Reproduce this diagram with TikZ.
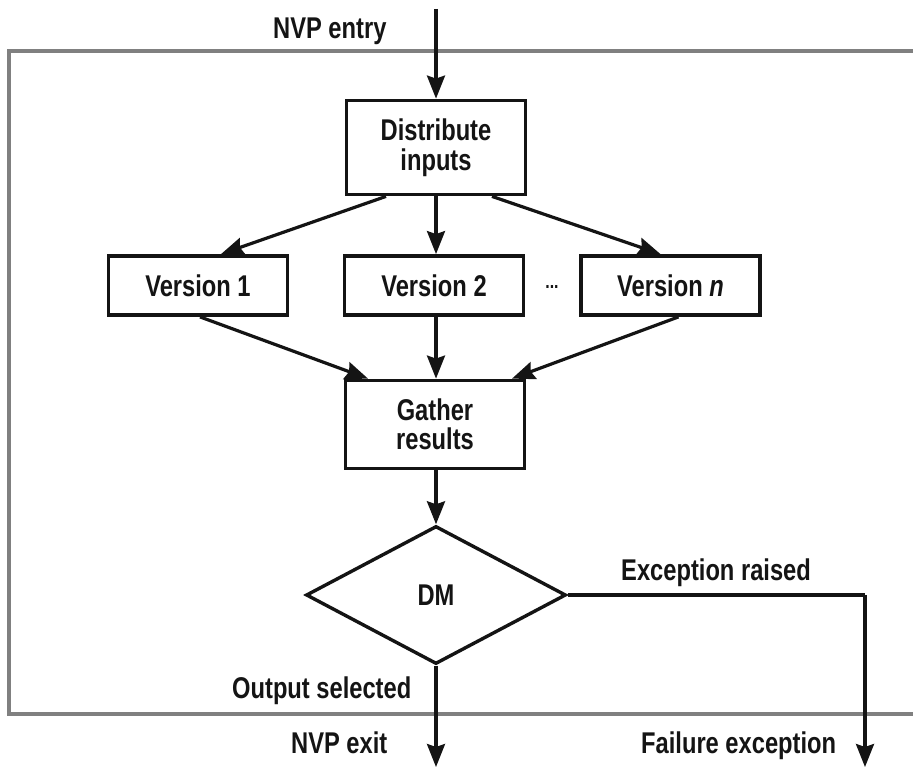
\documentclass[tikz,border=0pt]{standalone}
\usepackage{fontspec}
\setmainfont{Liberation Sans}[FakeStretch=0.79,UprightFont=*-Bold,ItalicFont=*-Bold Italic]
\usetikzlibrary{arrows.meta,shapes.geometric,calc}

\begin{document}
\begin{tikzpicture}[x=1pt,y=-1pt,
  every node/.style={font=\fontsize{30}{29.5}\selectfont, text=black!92},
  procbox/.style={draw=black!92, line width=3.8pt, minimum width=179pt,
    inner sep=0pt, align=center, fill=white},
  decision/.style={draw=black!92, diamond, line width=3.4pt, inner sep=0pt,
    minimum width=260pt, minimum height=138pt, aspect=1.88, fill=white},
  link/.style={draw=black!92, line width=3.2pt,
    -{Stealth[length=23pt,width=18pt,inset=3pt]}},
  plainlink/.style={draw=black!92, line width=3.2pt},
  tag/.style={inner sep=0pt, anchor=base west},
  frameline/.style={draw=black!50, line width=4.5pt}]

% page extent
\useasboundingbox (0,0) rectangle (913,767);

% enclosing N-version programming block (open on the right)
\draw[frameline] (916,51) -- (9,51) -- (9,714) -- (916,714);

% process boxes
\node[procbox, minimum height=94pt] (dist) at (436,147.5) {Distribute\\inputs};
\node[procbox, minimum height=59pt] (v1) at (198,285.5) {Version 1};
\node[procbox, minimum height=59pt] (v2) at (434,285.5) {Version 2};
\node[procbox, minimum height=59pt] (vn) at (670.5,285.5) {Version \textit{n}};
\node[inner sep=0pt, font=\fontsize{20}{20}\selectfont] (dots) at (552,287) {...};
\node[procbox, minimum height=88pt] (gather) at (435,424.5) {Gather\\results};
\node[decision] (dm) at (436,595) {DM};

% free ends of the connectors
\coordinate (entry) at (436,9);
\coordinate (exit) at (436,767);
\coordinate (corner) at (865,595);
\coordinate (fail) at (865,767);

% connectors
\draw[link] (entry) -- (dist.north);
\draw[link] ($(dist.south)+(-50,0)$) -- ($(v1.north)+(23,0)$);
\draw[link] (dist.south) -- (dist.south |- v2.north);
\draw[link] ($(dist.south)+(56,0)$) -- ($(vn.north)+(-10,0)$);
\draw[link] ($(v1.south)+(2,0)$) -- ($(gather.north)+(-67,0)$);
\draw[link] (v2.south -| dist.south) -- (dist.south |- gather.north);
\draw[link] ($(vn.south)+(8,0)$) -- ($(gather.north)+(77,0)$);
\draw[link] (gather.south -| dm.north) -- (dm.north);
\draw[plainlink] (dm.east) -- (corner);
\draw[link] (corner) -- (fail);
\draw[link] (dm.south) -- (exit);

% labels
\node[tag] (lentry) at (273,39) {NVP entry};
\node[tag] (lexc) at (621,580) {Exception raised};
\node[tag] (lout) at (232,698) {Output selected};
\node[tag] (lexit) at (291,753) {NVP exit};
\node[tag] (lfail) at (641,753) {Failure exception};
\end{tikzpicture}
\end{document}
